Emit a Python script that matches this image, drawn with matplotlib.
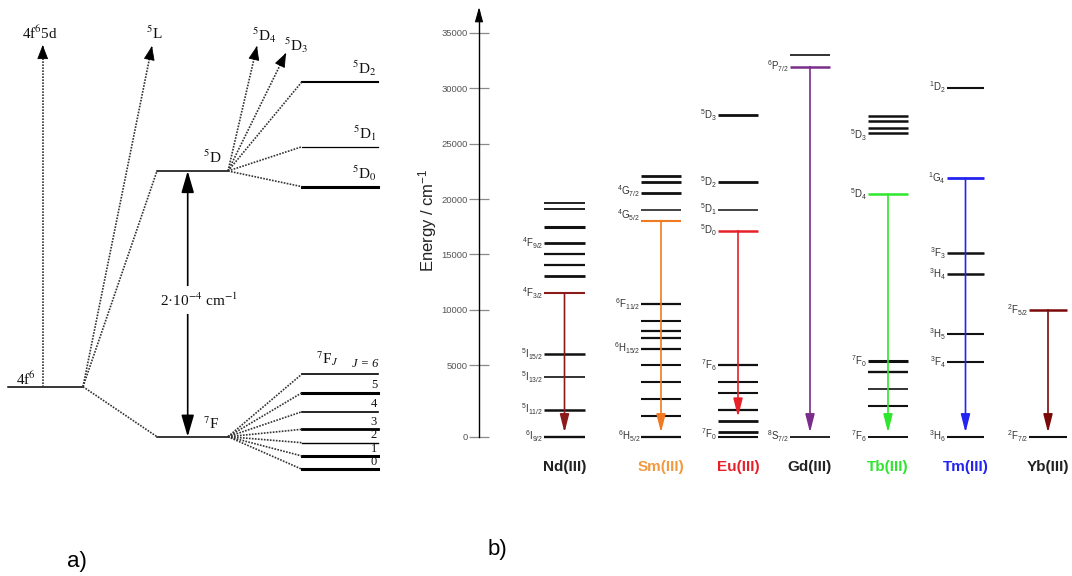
import numpy as np
import matplotlib
matplotlib.use("Agg")
from matplotlib import pyplot as plt

plt.rcParams['font.family'] = ['Liberation Sans', 'DejaVu Sans']
plt.rcParams['mathtext.fontset'] = 'custom'
plt.rcParams['mathtext.rm'] = 'Liberation Sans'
plt.rcParams['mathtext.it'] = 'Liberation Sans:italic'
plt.rcParams['mathtext.bf'] = 'Liberation Sans:bold'

# ---------------- panel a) : Eu(III) splitting scheme (schematic units) ----------------
gs_y, gs_x = 386.7, (8, 83)                  # 4f6 ground configuration
term_x = (157, 228)
term_5D_y, term_7F_y = 171, 436.7
d_levels_y = [81.7, 146.7, 186.7]            # 5D2, 5D1, 5D0
d_levels_lw = [1.5, 0.9, 2.2]
d_names = ['$^5$D$_2$', '$^5$D$_1$', '$^5$D$_0$']
f_levels_y = [374, 392.7, 411.7, 429.3, 442.7, 456, 469.3]   # 7F6 ... 7F0
f_levels_lw = [1.2, 2.2, 1.2, 2.0, 1.0, 2.2, 2.2]
f_names = ['', '5', '4', '3', '2', '1', '0']
sub_x = (302, 378)
up_tips = [(42.7, 45), (152, 46)]            # 4f65d, 5L (from 4f6)
d_tips = [(257, 46), (286, 53)]              # 5D4, 5D3 (from 5D)

# ---------------- panel b) : energy levels of the Ln(III) ions ----------------
ions = ['Nd(III)', 'Sm(III)', 'Eu(III)', 'Gd(III)', 'Tb(III)', 'Tm(III)', 'Yb(III)']
ion_colors = ['#8b1a1a', '#f07a22', '#e8202a', '#7b2d8b', '#2ee62e', '#2424f0', '#7a0a0a']
name_colors = ['#222222', '#f29a40', '#e8202a', '#222222', '#2ee62e', '#2424f0', '#222222']
col_x0 = [544, 641, 718, 790, 868, 947, 1029]
col_x1 = [585, 681, 758, 830, 908, 984, 1067]

nd_E = [19600, 19100, 17500, 16050, 15000, 14050, 13050, 11500, 6000, 4200, 1900, 0]
sm_E = [22100, 21550, 20550, 19050, 18050, 10500, 9000, 8050, 7500, 6500, 5000, 3850, 2650, 1450, 0]
eu_E = [27600, 21550, 19050, 17150, 5000, 3800, 3050, 1850, 1100, 350, 0]
gd_E = [33000, 31950, 0]
tb_E = [27500, 27000, 26450, 26000, 20450, 5400, 4550, 3340, 2170, 0]
tm_E = [30050, 21900, 15150, 13250, 7800, 5300, 0]
yb_E = [10000, 0]
levels = [nd_E, sm_E, eu_E, gd_E, tb_E, tm_E, yb_E]

nd_lw = [1.3, 1.3, 2.2, 2.0, 1.6, 1.6, 2.0, 1.5, 1.8, 1.2, 1.8, 1.7]
sm_lw = [2.0, 2.0, 2.0, 1.1, 1.5, 1.6, 1.5, 1.6, 1.6, 1.6, 1.5, 1.5, 1.5, 1.5, 1.6]
eu_lw = [2.0, 2.0, 1.1, 1.8, 1.6, 1.5, 1.5, 1.6, 2.0, 2.0, 1.5]
gd_lw = [1.2, 1.8, 1.3]
tb_lw = [1.8, 1.8, 1.8, 1.8, 1.8, 2.2, 1.7, 1.2, 1.5, 1.4]
tm_lw = [1.5, 2.0, 1.8, 1.8, 1.5, 1.5, 1.5]
yb_lw = [1.8, 1.5]
widths = [nd_lw, sm_lw, eu_lw, gd_lw, tb_lw, tm_lw, yb_lw]

emit_E = [11500, 18050, 17150, 31950, 20450, 21900, 10000]
final_E = [0, 0, 1100, 0, 0, 0, 0]

nd_lab = {16050: r'$^4\mathrm{F}_{9/2}$', 11500: r'$^4\mathrm{F}_{3/2}$', 6000: r'$^5\mathrm{I}_{15/2}$',
          4200: r'$^5\mathrm{I}_{13/2}$', 1900: r'$^5\mathrm{I}_{11/2}$', 0: r'$^6\mathrm{I}_{9/2}$'}
sm_lab = {20750: r'$^4\mathrm{G}_{7/2}$', 18500: r'$^4\mathrm{G}_{5/2}$', 10500: r'$^6\mathrm{F}_{11/2}$',
          6500: r'$^6\mathrm{H}_{15/2}$', 0: r'$^6\mathrm{H}_{5/2}$'}
eu_lab = {27600: r'$^5\mathrm{D}_3$', 21550: r'$^5\mathrm{D}_2$', 19050: r'$^5\mathrm{D}_1$',
          17150: r'$^5\mathrm{D}_0$', 5000: r'$^7\mathrm{F}_6$', 200: r'$^7\mathrm{F}_0$'}
gd_lab = {31950: r'$^6\mathrm{P}_{7/2}$', 0: r'$^8\mathrm{S}_{7/2}$'}
tb_lab = {25800: r'$^5\mathrm{D}_3$', 20450: r'$^5\mathrm{D}_4$', 5400: r'$^7\mathrm{F}_0$', 0: r'$^7\mathrm{F}_6$'}
tm_lab = {30050: r'$^1\mathrm{D}_2$', 21900: r'$^1\mathrm{G}_4$', 15150: r'$^3\mathrm{F}_3$',
          13250: r'$^3\mathrm{H}_4$', 7800: r'$^3\mathrm{H}_5$', 5300: r'$^3\mathrm{F}_4$', 0: r'$^3\mathrm{H}_6$'}
yb_lab = {10000: r'$^2\mathrm{F}_{5/2}$', 0: r'$^2\mathrm{F}_{7/2}$'}
labels = [nd_lab, sm_lab, eu_lab, gd_lab, tb_lab, tm_lab, yb_lab]

energy_ticks = list(range(0, 35001, 5000))

# the energy axis of the original is not linear below 5000 cm-1
E_pts = [-10000, 0, 5000, 35000, 50000]
P_pts = [-142.8, 0, 71.4, 403.9, 570.2]


def forward(y):
    return np.interp(y, E_pts, P_pts)


def inverse(p):
    return np.interp(p, P_pts, E_pts)


fig = plt.figure(figsize=(10.72, 5.76), dpi=100)
ax = fig.add_axes([0, 0, 1, 1])
ax.set_xlim(0, 1072)
ax.set_ylim(576, 0)
ax.axis('off')

serif = dict(family=['Liberation Serif', 'DejaVu Serif'], math_fontfamily='stix', fontsize=11, color='#111111')
dots = dict(color='#333333', lw=1.2, ls=(0, (1, 0.8)))
head_a = dict(color='k', lw=0.6, shrinkA=0, shrinkB=0, mutation_scale=10)


def dotted_arrow(p0, p1):
    ax.plot([p0[0], p1[0]], [p0[1], p1[1]], **dots)
    d = np.array(p1) - np.array(p0)
    d = d / np.hypot(*d)
    back = np.array(p1) - 10 * d
    ax.annotate('', xy=p1, xytext=tuple(back),
                arrowprops=dict(arrowstyle='-|>,head_length=0.9,head_width=0.35', **head_a))


# levels
ax.plot(gs_x, [gs_y, gs_y], color='k', lw=1.1)
ax.plot(term_x, [term_5D_y, term_5D_y], color='k', lw=1.1)
ax.plot(term_x, [term_7F_y, term_7F_y], color='k', lw=1.1)
for y, lw in zip(d_levels_y, d_levels_lw):
    ax.plot(sub_x, [y, y], color='k', lw=lw)
    ax.plot([term_x[1], sub_x[0]], [term_5D_y, y], **dots)
for y, lw, n in zip(f_levels_y, f_levels_lw, f_names):
    ax.plot(sub_x, [y, y], color='k', lw=lw)
    ax.plot([term_x[1], sub_x[0]], [term_7F_y, y], **dots)
    if n:
        ax.text(sub_x[1] - 1, y - 1.5, n, ha='right', va='bottom', **dict(serif, fontsize=9))
ax.plot([gs_x[1], term_x[0]], [gs_y, term_5D_y], **dots)
ax.plot([gs_x[1], term_x[0]], [gs_y, term_7F_y], **dots)
dotted_arrow((up_tips[0][0], gs_y), up_tips[0])
dotted_arrow((gs_x[1], gs_y), up_tips[1])
for t in d_tips:
    dotted_arrow((term_x[1], term_5D_y), t)

ax.annotate('', xy=(187.7, term_5D_y), xytext=(187.7, term_7F_y),
            arrowprops=dict(arrowstyle='<|-|>,head_length=1.2,head_width=0.35', color='k',
                            lw=1.2, shrinkA=0, shrinkB=0, mutation_scale=11))
ax.text(199, 300, '2·10$^{-4}$ cm$^{-1}$', ha='center', va='center',
        bbox=dict(fc='white', ec='none', pad=4), **serif)

ax.text(40, 33, '4f$^6$5d', ha='center', va='center', **serif)
ax.text(154, 33, '$^5$L', ha='center', va='center', **serif)
ax.text(264, 35, '$^5$D$_4$', ha='center', va='center', **serif)
ax.text(296, 45, '$^5$D$_3$', ha='center', va='center', **serif)
for y, n in zip(d_levels_y, d_names):
    ax.text(377, y - 4, n, ha='right', va='bottom', **serif)
ax.text(212, 157, '$^5$D', ha='center', va='center', **serif)
ax.text(211, 424, '$^7$F', ha='center', va='center', **serif)
ax.text(26, 379, '4f$^6$', ha='center', va='center', **serif)
ax.text(327, 359, '$^7$F$_J$', ha='center', va='center', **serif)
ax.text(378, 370, 'J = 6', ha='right', va='bottom', style='italic', **dict(serif, fontsize=9))

ax.text(77, 562, 'a)', ha='center', va='center', fontsize=16)
ax.text(497, 549, 'b)', ha='center', va='center', fontsize=16)
ax.text(428, 220, 'Energy / cm$^{-1}$', ha='center', va='center', rotation=90, fontsize=12, color='#222222')

# ---------------- panel b) ----------------
axb = fig.add_axes([479 / 1072, 0, 593 / 1072, 1])
axb.patch.set_visible(False)
axb.set_yscale('function', functions=(forward, inverse))
axb.set_xlim(479, 1072)
axb.set_ylim(inverse(-139.3), inverse(436.7))
for s in ['top', 'right', 'bottom']:
    axb.spines[s].set_visible(False)
axb.spines['left'].set_bounds(0, inverse(426))
axb.spines['left'].set_linewidth(1.0)
axb.set_xticks([])
axb.set_yticks(energy_ticks)
axb.tick_params(axis='y', direction='inout', length=15, width=0.9, color='#8a8a8a',
                labelsize=6.8, labelcolor='#555555', pad=0.5)
axb.annotate('', xy=(479, inverse(429.5)), xytext=(479, inverse(418)),
             arrowprops=dict(arrowstyle='-|>,head_length=0.9,head_width=0.25', color='k',
                             lw=0.8, shrinkA=0, shrinkB=0, mutation_scale=10))

for i in range(len(ions)):
    x0, x1 = col_x0[i], col_x1[i]
    xc = (x0 + x1) / 2
    for e, lw in zip(levels[i], widths[i]):
        c = ion_colors[i] if e == emit_E[i] else '#111111'
        axb.hlines(e, x0, x1, colors=c, linewidths=lw, zorder=2)
    for e, t in labels[i].items():
        axb.text(x0 - 1, e, t, ha='right', va='center', fontsize=7, color='#333333')
    axb.annotate('', xy=(xc, final_E[i]), xytext=(xc, emit_E[i]),
                 arrowprops=dict(arrowstyle='-|>,head_length=0.55,head_width=0.14',
                                 color=ion_colors[i], lw=1.2, shrinkA=0, shrinkB=3,
                                 mutation_scale=20), zorder=3)
    axb.text(xc, inverse(-30.5), ions[i], ha='center', va='center', fontsize=11,
             fontweight='bold', color=name_colors[i])

fig.savefig('out.png', dpi=100)
